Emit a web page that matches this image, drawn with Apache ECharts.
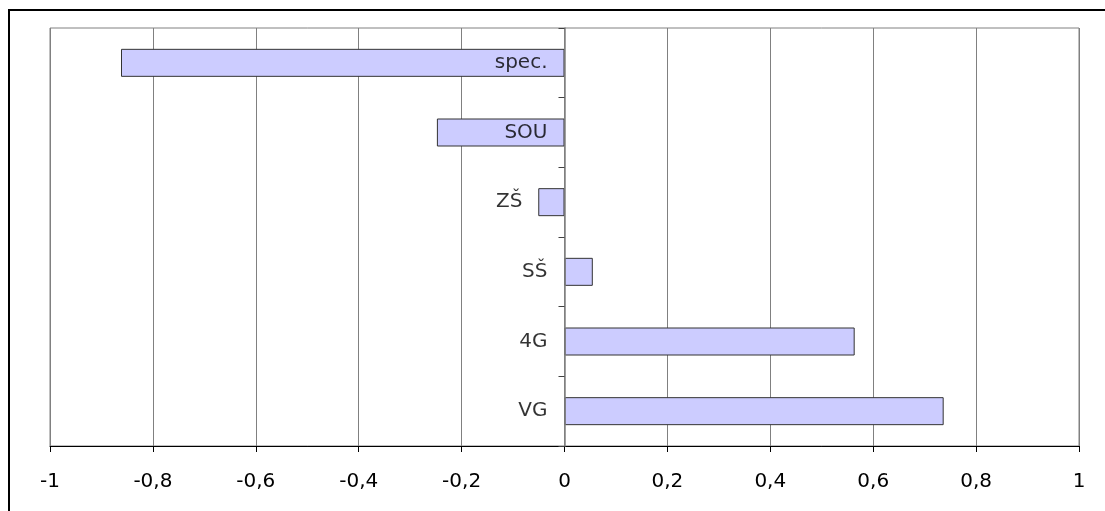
<!DOCTYPE html>
<html>
<head>
<meta charset="utf-8">
<script src="https://cdn.jsdelivr.net/npm/echarts@6/dist/echarts.min.js"></script>
<style>
html,body{margin:0;padding:0;background:#fff;}
#chart{width:1105px;height:511px;}
</style>
</head>
<body>
<div id="chart"></div>
<script>
// Categories, top to bottom
const categories = ['spec.', 'SOU', 'ZŠ', 'SŠ', '4G', 'VG'];
const values = [-0.862, -0.248, -0.051, 0.055, 0.564, 0.737];
const xTickMin = -1;
const xTickMax = 1;
const xTickStep = 0.2;

const chart = echarts.init(document.getElementById('chart'));
const font = 'DejaVu Sans';

chart.setOption({
  animation: false,
  backgroundColor: '#fff',
  graphic: [{
    type: 'rect',
    shape: { x: 9, y: 10, width: 1200, height: 600 },
    style: { fill: 'none', stroke: '#000', lineWidth: 2 },
    z: 100
  }],
  grid: {
    left: 50, right: 26, top: 28, bottom: 65,
    show: true, borderColor: '#808080', borderWidth: 1,
    containLabel: false,
    outerBoundsMode: 'none'
  },
  xAxis: {
    type: 'value',
    min: xTickMin, max: xTickMax, interval: xTickStep,
    axisLine: { show: true, onZero: false, lineStyle: { color: '#000', width: 1 } },
    axisTick: { show: true, length: 6, lineStyle: { color: '#000' } },
    splitLine: { show: true, lineStyle: { color: '#808080', width: 1 } },
    axisLabel: {
      margin: 26,
      fontSize: 20,
      fontFamily: font,
      color: '#000',
      formatter: function (v) {
        const r = Math.round(v * 10) / 10;
        return String(r).replace('.', ',');
      }
    }
  },
  yAxis: {
    type: 'category',
    data: categories,
    inverse: true,
    z: 10,
    axisLine: { show: true, onZero: true, lineStyle: { color: '#808080', width: 1.5 } },
    axisTick: { show: true, length: 6, lineStyle: { color: '#404040' } },
    splitLine: { show: false },
    axisLabel: { show: false }
  },
  series: [{
    type: 'bar',
    data: values,
    barWidth: 28,
    itemStyle: { color: '#CCCCFF', borderColor: '#333', borderWidth: 1 },
    z: 2
  }, {
    type: 'scatter',
    data: categories.map(function (c) { return [0, c]; }),
    symbolSize: 0,
    z: 10,
    silent: true,
    label: {
      show: true,
      position: 'left',
      distance: 17,
      fontSize: 20,
      fontFamily: font,
      color: '#000',
      formatter: function (p) { return p.value[1] === 'ZŠ' ? '{z|ZŠ}' : p.value[1]; },
      rich: {
        z: { fontSize: 20, fontFamily: font, color: '#000', padding: [0, 25, 0, 0] }
      }
    }
  }]
});
</script>
</body>
</html>
